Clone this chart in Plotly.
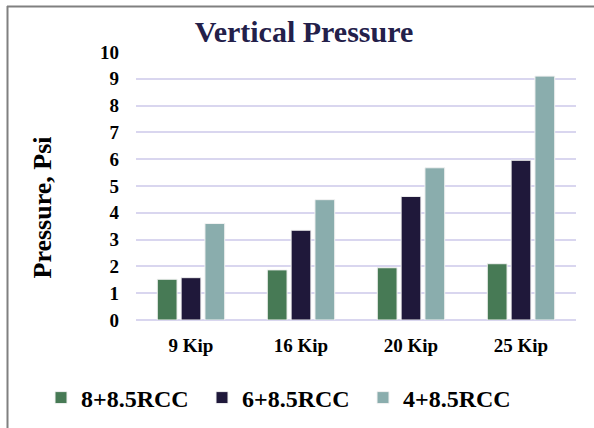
import plotly.graph_objects as go

categories = ["9 Kip", "16 Kip", "20 Kip", "25 Kip"]
series_names = ["8+8.5RCC", "6+8.5RCC", "4+8.5RCC"]
vals_8 = [1.52, 1.87, 1.95, 2.10]
vals_6 = [1.58, 3.35, 4.61, 5.96]
vals_4 = [3.60, 4.49, 5.68, 9.10]
colors = ["#477a55", "#1f183a", "#8aadad"]

FONT = "Liberation Serif"

fig = go.Figure()
for name, vals, col in zip(series_names, [vals_8, vals_6, vals_4], colors):
    fig.add_trace(go.Bar(
        x=categories, y=vals, name=name,
        marker=dict(color=col, line=dict(color="#f2f2f2", width=1)),
    ))

W, H = 594, 428
L, R, T, B = 136, 18, 52, 108
pw, ph = W - L - R, H - T - B

def px_x(p):
    return (p - L) / pw

def px_y(p):
    return (H - B - p) / ph

fig.update_layout(
    width=W, height=H,
    margin=dict(l=L, r=R, t=T, b=B, autoexpand=False),
    paper_bgcolor="white", plot_bgcolor="white",
    barmode="group", bargap=0.35, bargroupgap=0.17,
    font=dict(family=FONT, color="black"),
    title=dict(
        text="<b>Vertical Pressure</b>",
        font=dict(family=FONT, size=30, color="#23204a"),
        x=304 / W, xanchor="center", xref="container",
        y=1 - 31 / H, yanchor="middle",
    ),
    xaxis=dict(
        showgrid=False, showline=False, ticks="",
        tickfont=dict(family=FONT, size=19, color="black", weight="bold"),
        ticklabelstandoff=12,
    ),
    yaxis=dict(
        range=[0, 10], dtick=1, tick0=0,
        showgrid=True, gridcolor="#d9d6ef", gridwidth=2,
        zeroline=True, zerolinecolor="#d9d6ef", zerolinewidth=2,
        showline=False, ticks="",
        tickfont=dict(family=FONT, size=19, color="black", weight="bold"),
        ticklabelstandoff=16,
    ),
    annotations=[
        dict(text="<b>Pressure, Psi</b>", textangle=-90,
             xref="paper", yref="paper", x=px_x(42), y=px_y(207.5),
             xanchor="center", yanchor="middle", showarrow=False,
             font=dict(family=FONT, size=26, color="black")),
    ],
    legend=dict(
        orientation="h", xref="paper", yref="paper",
        x=px_x(41), xanchor="left",
        y=px_y(398), yanchor="middle",
        font=dict(family=FONT, size=24, color="black", weight="bold"),
        entrywidth=116, itemwidth=30, bgcolor="rgba(0,0,0,0)",
    ),
    showlegend=True,
    shapes=[
        dict(type="line", xref="paper", yref="paper",
             x0=px_x(7), x1=px_x(600), y0=px_y(6.5), y1=px_y(6.5),
             line=dict(color="#808080", width=2)),
        dict(type="line", xref="paper", yref="paper",
             x0=px_x(7.5), x1=px_x(7.5), y0=px_y(6), y1=px_y(440),
             line=dict(color="#808080", width=2)),
    ],
)

fig.write_html("out.html")
